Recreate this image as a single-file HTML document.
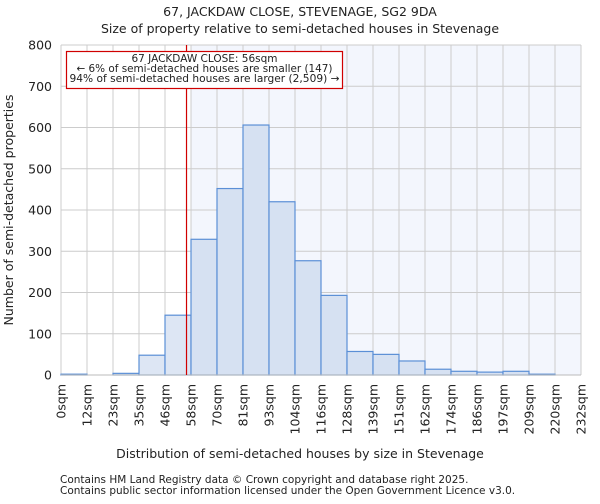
<!DOCTYPE html>
<html><head><meta charset="utf-8"><style>
body{margin:0;background:#fff;font-family:"DejaVu Sans","Liberation Sans",sans-serif;}
svg text{font-family:"DejaVu Sans","Liberation Sans",sans-serif;fill:#222;}
</style></head><body>
<svg id="chart" width="600" height="500" xmlns="http://www.w3.org/2000/svg">
<text x="300" y="16" text-anchor="middle" font-size="12.5">67, JACKDAW CLOSE, STEVENAGE, SG2 9DA</text>
<text x="300" y="33" text-anchor="middle" font-size="12.5">Size of property relative to semi-detached houses in Stevenage</text>
<g id="plot"></g>
<text x="300" y="458" text-anchor="middle" font-size="12.5">Distribution of semi-detached houses by size in Stevenage</text>
<text transform="translate(13,210) rotate(-90)" text-anchor="middle" font-size="12.5">Number of semi-detached properties</text>
<text x="60" y="483" font-size="10.5" fill="#444">Contains HM Land Registry data © Crown copyright and database right 2025.</text>
<text x="60" y="494" font-size="10.5" fill="#444">Contains public sector information licensed under the Open Government Licence v3.0.</text>
</svg>
<script>
const binLabels=["0sqm","12sqm","23sqm","35sqm","46sqm","58sqm","70sqm","81sqm","93sqm","104sqm","116sqm","128sqm","139sqm","151sqm","162sqm","174sqm","186sqm","197sqm","209sqm","220sqm","232sqm"];
const counts=[2,0,4,48,145,329,452,606,420,277,193,57,50,34,14,9,7,9,2,0];
const yTicks=[0,100,200,300,400,500,600,700,800];
const binWidthSqm=11.6;
const subjectSize=56;
const NS="http://www.w3.org/2000/svg";
const g=document.getElementById('plot');
const X0=61,X1=581,Y0=375,Y1=45,YMAX=800;
const nb=counts.length;
const xs=i=>X0+(X1-X0)*i/nb;
const xv=v=>X0+(X1-X0)*(v/binWidthSqm)/nb;
const ys=v=>Y0-(Y0-Y1)*v/YMAX;
function mk(t,a){const e=document.createElementNS(NS,t);for(const k in a)e.setAttribute(k,a[k]);g.appendChild(e);return e;}
const lineX=xv(subjectSize);
const shadeStart=xs(Math.ceil(subjectSize/binWidthSqm));
let r=mk('rect',{x:shadeStart,y:Y1,width:X1-shadeStart,height:Y0-Y1,fill:'#f3f6fd'});


for(let i=0;i<=nb;i++){let l=mk('line',{x1:xs(i),x2:xs(i),y1:Y1,y2:Y0,stroke:'#cccccc','stroke-width':1});

}
yTicks.forEach(t=>{let l=mk('line',{x1:X0,x2:X1,y1:ys(t),y2:ys(t),stroke:'#cccccc','stroke-width':1});


let tx=mk('text',{x:X0-9,y:ys(t)+4.5,'text-anchor':'end','font-size':'12.5'});tx.textContent=t;

});
counts.forEach((c,i)=>{let b=mk('rect',{x:xs(i),y:ys(c),width:xs(i+1)-xs(i),height:Y0-ys(c),fill:xs(i)<lineX?'#dde6f4':'#d6e1f2',stroke:'#5b8fd6','stroke-width':1.2});

});
let ax=mk('line',{x1:X0,x2:X1,y1:Y0,y2:Y0,stroke:'#bbb','stroke-width':1});


binLabels.forEach((s,i)=>{let tx=mk('text',{transform:`translate(${xs(i)+4.5},${Y0+9}) rotate(-90)`,'text-anchor':'end','font-size':'12.5'});tx.textContent=s;

});
let rl=mk('line',{x1:lineX,x2:lineX,y1:Y1,y2:Y0,stroke:'#d00000','stroke-width':1.2});


let box=mk('rect',{x:66.5,y:51.5,width:276,height:37,fill:'#fff',stroke:'#d00000','stroke-width':1.2});


["67 JACKDAW CLOSE: 56sqm","← 6% of semi-detached houses are smaller (147)","94% of semi-detached houses are larger (2,509) →"].forEach((s,i)=>{let tx=mk('text',{x:204.5,y:62+i*10,'text-anchor':'middle','font-size':'10.5',textLength:i==0?'':'','lengthAdjust':'spacingAndGlyphs'});tx.textContent=s;
if(i>0)tx.setAttribute('textLength',i==1?'256':'270');
if(i==0)tx.removeAttribute('textLength');

});
</script>
</body></html>
